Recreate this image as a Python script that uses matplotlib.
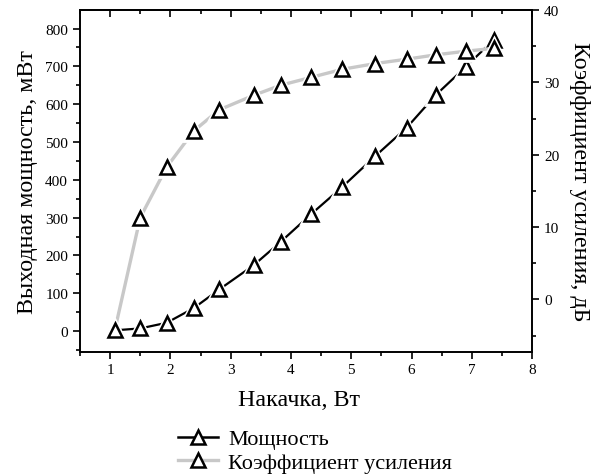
import numpy as np
import matplotlib
matplotlib.use('Agg')
import matplotlib.pyplot as plt
from matplotlib.ticker import MultipleLocator

# data
pump = [1.08, 1.50, 1.94, 2.39, 2.81, 3.38, 3.83, 4.34, 4.85, 5.40, 5.92, 6.40, 6.90, 7.36]
power = [2, 7, 22, 61, 110, 174, 236, 310, 381, 463, 538, 624, 699, 770]
gain = [-4.2, 11.3, 18.3, 23.3, 26.2, 28.2, 29.6, 30.7, 31.8, 32.6, 33.2, 33.8, 34.3, 34.7]

plt.rcParams['font.family'] = ['Liberation Serif', 'DejaVu Serif']

fig = plt.figure(figsize=(5.92, 4.77), dpi=100)
ax = fig.add_axes([0.135, 0.261, 0.764, 0.716])
ax2 = ax.twinx()

mk = dict(marker='^', ms=10, mfc='white', mec='black', mew=1.8)

# power (left axis)
ax.plot(pump, power, color='black', lw=1.6, zorder=2)
ax.plot(pump, power, ls='none', marker='^', ms=14, mfc='white', mec='white', mew=2, zorder=3)
ax.plot(pump, power, ls='none', zorder=4, **mk)

# gain (right axis)
ax2.plot(pump, gain, color='#c8c8c8', lw=2.4, zorder=2)
ax2.plot(pump, gain, ls='none', marker='^', ms=14, mfc='white', mec='white', mew=2, zorder=3)
ax2.plot(pump, gain, ls='none', zorder=4, **mk)

ax.set_xlim(0.5, 8)
ax.set_ylim(-54, 849)
ax2.set_ylim(-7.2, 40)

ax.xaxis.set_major_locator(MultipleLocator(1))
ax.xaxis.set_minor_locator(MultipleLocator(0.5))
ax.yaxis.set_major_locator(MultipleLocator(100))
ax.yaxis.set_minor_locator(MultipleLocator(50))
ax2.yaxis.set_major_locator(MultipleLocator(10))
ax2.yaxis.set_minor_locator(MultipleLocator(5))

for a in (ax, ax2):
    for s in a.spines.values():
        s.set_linewidth(1.2)
    a.tick_params(which='major', direction='out', length=5, width=1.2, labelsize=11)
    a.tick_params(which='minor', direction='out', length=3, width=1.2)

# top ticks pointing in
top = ax.secondary_xaxis('top')
top.xaxis.set_major_locator(MultipleLocator(1))
top.xaxis.set_minor_locator(MultipleLocator(0.5))
top.tick_params(which='major', direction='in', length=5, width=1.2, labeltop=False)
top.tick_params(which='minor', direction='in', length=3, width=1.2)
top.spines['top'].set_linewidth(1.2)

ax.set_xlabel('Накачка, Вт', fontsize=17.3)
ax.xaxis.set_label_coords(0.485, -0.11)
ax.set_ylabel('Выходная мощность, мВт', fontsize=17.3, labelpad=5)
ax2.set_ylabel('Коэффициент усиления, дБ', fontsize=17.3, rotation=-90, labelpad=22)

# legend
h1 = plt.Line2D([], [], color='black', lw=1.8, **mk)
h2 = plt.Line2D([], [], color='#c8c8c8', lw=2.4, **mk)
fig.legend([h1, h2], ['Мощность', 'Коэффициент усиления'],
           loc='center left', bbox_to_anchor=(0.282, 0.053), frameon=False,
           fontsize=16, handlelength=1.8, handletextpad=0.45, labelspacing=0.12,
           borderpad=0)

fig.savefig('out.png', dpi=100)
